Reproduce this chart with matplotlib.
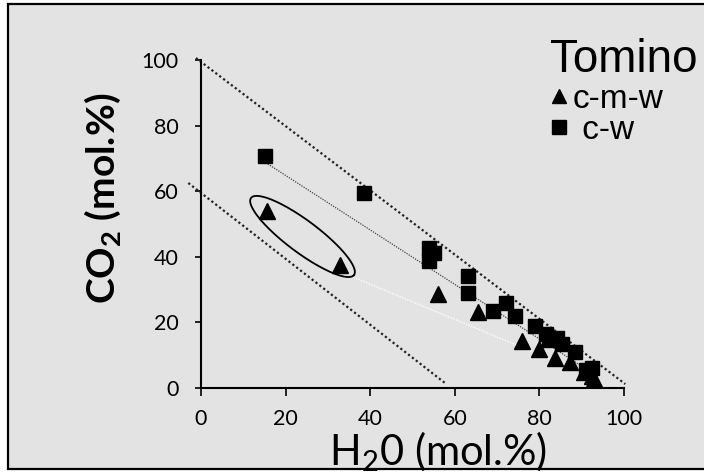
import matplotlib.pyplot as plt
import numpy as np
from matplotlib.patches import Rectangle
from matplotlib.lines import Line2D

# Dados - H2O e CO2 em mol.%
cw_h2o = [15.1, 38.5, 53.9, 55.2, 53.9, 63.2, 63.2, 69.0, 72.2, 74.2, 79.0, 81.5,
          82.2, 84.1, 85.4, 88.4, 91.0, 92.4]
cw_co2 = [70.8, 59.3, 42.8, 41.2, 38.6, 34.0, 28.9, 23.4, 26.0, 22.0, 19.0, 16.5,
          14.7, 15.2, 13.5, 11.0, 5.6, 6.2]

cmw_h2o = [15.6, 32.9, 56.0, 65.5, 75.8, 80.0, 83.6, 87.3, 90.5, 92.4, 92.8]
cmw_co2 = [54.0, 37.5, 28.7, 23.2, 14.4, 11.8, 9.1, 8.0, 5.0, 3.6, 2.6]

# Linhas de referencia e tendencias
lim_sup_x = [-1.2, 100.3]
lim_sup_y = [100.6, 1.2]
lim_inf_x = [-3.0, 57.7]
lim_inf_y = [62.5, 1.5]
tend_cw_x = [15.8, 92.0]
tend_cw_y = [68.3, 5.0]
tend_cmw_x = [36.0, 85.0]
tend_cmw_y = [33.8, 7.5]

ticks = [0, 20, 40, 60, 80, 100]

# Elipse (centro e semi-eixos conjugados, em unidades dos dados)
elipse_centro = (24.0, 46.2)
elipse_a = (12.17, -11.74)
elipse_b = (2.27, 3.90)

plt.rcParams['mathtext.fontset'] = 'custom'
plt.rcParams['mathtext.rm'] = 'Lato'
plt.rcParams['mathtext.bf'] = 'Lato:bold'

fig = plt.figure(figsize=(7.04, 4.73), dpi=100)
fig.patch.set_facecolor('white')
fig.patches.append(Rectangle((8 / 704, 4 / 473), 1.0, 465 / 473, transform=fig.transFigure,
                             facecolor='#e3e3e3', edgecolor='black', linewidth=1.6,
                             zorder=-10))

ax = fig.add_axes([201 / 704, 85 / 473, 423 / 704, 328 / 473])
ax.set_facecolor('none')

# linhas pontilhadas
ax.plot(lim_sup_x, lim_sup_y, color='#222222', linestyle=(0, (1, 1.2)), lw=1.6, clip_on=False)
ax.plot(lim_inf_x, lim_inf_y, color='#222222', linestyle=(0, (1, 1.2)), lw=1.6, clip_on=False)
ax.plot(tend_cw_x, tend_cw_y, color='#444444', linestyle=(0, (1, 1)), lw=0.9)
ax.plot(tend_cmw_x, tend_cmw_y, color='white', linestyle=(0, (1, 1)), lw=1.0)

t = np.linspace(0, 2 * np.pi, 200)
ex = elipse_centro[0] + elipse_a[0] * np.cos(t) + elipse_b[0] * np.sin(t)
ey = elipse_centro[1] + elipse_a[1] * np.cos(t) + elipse_b[1] * np.sin(t)
ax.plot(ex, ey, color='black', lw=1.3)

ax.plot(cmw_h2o, cmw_co2, linestyle='none', marker='^', ms=11, color='black', zorder=5)
ax.plot(cw_h2o, cw_co2, linestyle='none', marker='s', ms=10.5, color='black', zorder=5)

ax.set_xlim(0, 100)
ax.set_ylim(0, 100)
ax.set_xticks(ticks)
ax.set_yticks(ticks)
for s in ['top', 'right']:
    ax.spines[s].set_visible(False)
for s in ['left', 'bottom']:
    ax.spines[s].set_linewidth(1.5)
ax.tick_params(axis='y', direction='out', length=4.3, width=1.2, pad=12, labelsize=15.5)
ax.tick_params(axis='x', direction='out', length=5.8, width=1.2, pad=9, labelsize=15.5)
ax.yaxis.get_major_ticks()[1].tick1line.set_color('white')
for lab in ax.get_xticklabels() + ax.get_yticklabels():
    lab.set_fontfamily('Lato')

ax.set_xlabel('H$_\\mathregular{2}$0 (mol.%)', fontsize=30, fontfamily='Lato', va='baseline')
ax.xaxis.set_label_coords(0.560, -0.235)
ax.set_ylabel('CO$_\\mathregular{2}$ (mol.%)', fontsize=28, fontfamily='Lato',
              fontweight='bold', va='center')
ax.yaxis.set_label_coords(-0.232, 0.579)

fig.text(550 / 704, (473 - 72) / 473, 'Tomino', fontsize=33, fontfamily='Liberation Sans',
         ha='left', va='baseline')

handles = [Line2D([], [], linestyle='none', marker='^', ms=10, color='black'),
           Line2D([], [], linestyle='none', marker='s', ms=10, color='black')]
fig.legend(handles, ['c-m-w', ' c-w'], loc='upper left',
           bbox_to_anchor=(552 / 704, (473 - 84) / 473), frameon=False,
           prop={'family': 'Liberation Sans', 'size': 24}, borderpad=0, borderaxespad=0,
           handlelength=0.4, handletextpad=0.22, labelspacing=0.0)

fig.savefig('out.png', dpi=100)
